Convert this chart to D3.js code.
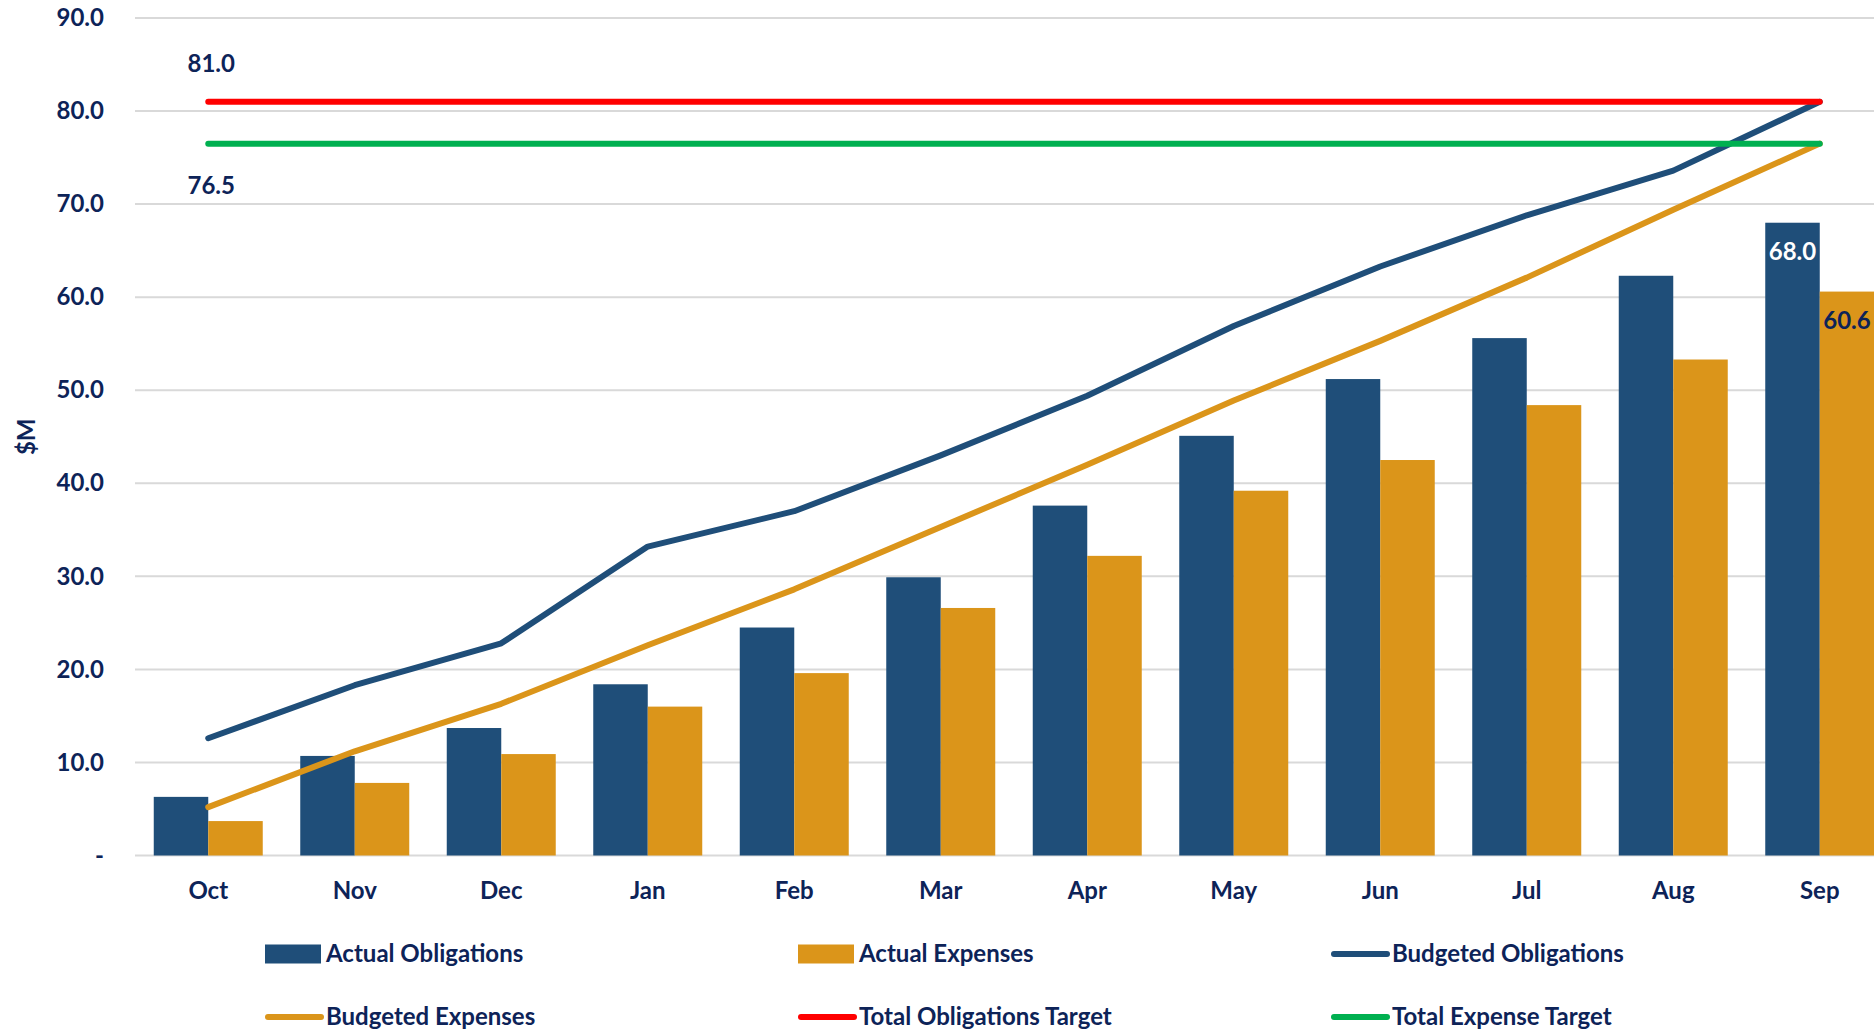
<!DOCTYPE html>
<html>
<head>
<meta charset="utf-8">
<script src="https://cdn.jsdelivr.net/npm/d3@7"></script>
<style>
  body { margin: 0; background: #fff; overflow: hidden; }
  svg text { font-family: Lato, "Open Sans", sans-serif; font-weight: bold; fill: #0d2358; }
</style>
</head>
<body>
<svg width="1874" height="1033"></svg>
<script>
const months = ["Oct", "Nov", "Dec", "Jan", "Feb", "Mar", "Apr", "May", "Jun", "Jul", "Aug", "Sep"];
const actualObligations = [6.3, 10.7, 13.7, 18.4, 24.5, 29.9, 37.6, 45.1, 51.2, 55.6, 62.3, 68.0];
const actualExpenses = [3.7, 7.8, 10.9, 16.0, 19.6, 26.6, 32.2, 39.2, 42.5, 48.4, 53.3, 60.6];
const budgetedObligations = [12.6, 18.3, 22.8, 33.2, 37.0, 43.0, 49.4, 56.9, 63.3, 68.8, 73.6, 81.0];
const budgetedExpenses = [5.2, 11.2, 16.3, 22.6, 28.6, 35.3, 42.0, 48.9, 55.3, 62.1, 69.4, 76.5];
const totalObligationsTarget = [81.0, 81.0, 81.0, 81.0, 81.0, 81.0, 81.0, 81.0, 81.0, 81.0, 81.0, 81.0];
const totalExpenseTarget = [76.5, 76.5, 76.5, 76.5, 76.5, 76.5, 76.5, 76.5, 76.5, 76.5, 76.5, 76.5];
const yTicks = [0, 10, 20, 30, 40, 50, 60, 70, 80, 90];

const navy = "#1f4e79", gold = "#db951a", red = "#ff0000", green = "#00b050";

const svg = d3.select("svg");
const plotLeft = 135, plotRight = 1893, plotTop = 18, plotBottom = 855.5;

const x = d3.scaleBand().domain(months).range([plotLeft, plotRight]).paddingInner(0.256).paddingOuter(0.128);
const xSub = d3.scaleBand().domain(["obl", "exp"]).range([0, x.bandwidth()]);
const y = d3.scaleLinear().domain([0, 90]).range([plotBottom, plotTop]);
const cx = (m) => x(m) + x.bandwidth() / 2;

// gridlines
svg.append("g")
  .selectAll("line")
  .data(yTicks)
  .join("line")
  .attr("x1", plotLeft)
  .attr("x2", 1874)
  .attr("y1", (d) => y(d))
  .attr("y2", (d) => y(d))
  .attr("stroke", "#d9d9d9")
  .attr("stroke-width", 2);

// y axis labels
const yAxis = svg.append("g")
  .attr("transform", "translate(104,0)")
  .call(d3.axisLeft(y).tickValues(yTicks).tickSize(0).tickPadding(0)
    .tickFormat((d) => (d === 0 ? "-" : d.toFixed(1))));
yAxis.select(".domain").remove();
yAxis.selectAll("text").style("font-size", "24px").attr("fill", "#0d2358");

// x axis labels
const xAxis = svg.append("g")
  .attr("transform", `translate(0,${plotBottom})`)
  .call(d3.axisBottom(x).tickSize(0).tickPadding(26));
xAxis.select(".domain").remove();
xAxis.selectAll("text").style("font-size", "24px").attr("fill", "#0d2358");

svg.append("text")
  .attr("transform", `translate(35,${(plotTop + plotBottom) / 2}) rotate(-90)`)
  .attr("text-anchor", "middle")
  .style("font-size", "24px")
  .text("$M");

// bars
svg.append("g")
  .selectAll("rect")
  .data(months)
  .join("rect")
  .attr("x", (m) => x(m) + xSub("obl"))
  .attr("y", (m, i) => y(actualObligations[i]))
  .attr("width", xSub.bandwidth())
  .attr("height", (m, i) => plotBottom - y(actualObligations[i]))
  .attr("fill", navy);

svg.append("g")
  .selectAll("rect")
  .data(months)
  .join("rect")
  .attr("x", (m) => x(m) + xSub("exp"))
  .attr("y", (m, i) => y(actualExpenses[i]))
  .attr("width", xSub.bandwidth())
  .attr("height", (m, i) => plotBottom - y(actualExpenses[i]))
  .attr("fill", gold);

// lines
const line = d3.line().x((d) => cx(d.m)).y((d) => y(d.v));
const series = [
  { values: budgetedObligations, color: navy },
  { values: budgetedExpenses, color: gold },
  { values: totalObligationsTarget, color: red },
  { values: totalExpenseTarget, color: green },
];
series.forEach((s) => {
  svg.append("path")
    .datum(months.map((m, i) => ({ m, v: s.values[i] })))
    .attr("d", line)
    .attr("fill", "none")
    .attr("stroke", s.color)
    .attr("stroke-width", 6)
    .attr("stroke-linecap", "round")
    .attr("stroke-linejoin", "round");
});

// data labels
svg.append("text")
  .attr("x", cx("Oct") + 3)
  .attr("y", y(totalObligationsTarget[0]) - 30)
  .attr("text-anchor", "middle")
  .style("font-size", "24px")
  .text(totalObligationsTarget[0].toFixed(1));

svg.append("text")
  .attr("x", cx("Oct") + 3)
  .attr("y", y(totalExpenseTarget[0]) + 50)
  .attr("text-anchor", "middle")
  .style("font-size", "24px")
  .text(totalExpenseTarget[0].toFixed(1));

const last = months.length - 1;
svg.append("text")
  .attr("x", x("Sep") + xSub("obl") + xSub.bandwidth() / 2)
  .attr("y", y(actualObligations[last]) + 37)
  .attr("text-anchor", "middle")
  .style("font-size", "24px")
  .style("fill", "#fff")
  .text(actualObligations[last].toFixed(1));

svg.append("text")
  .attr("x", x("Sep") + xSub("exp") + xSub.bandwidth() / 2)
  .attr("y", y(actualExpenses[last]) + 37)
  .attr("text-anchor", "middle")
  .style("font-size", "24px")
  .text(actualExpenses[last].toFixed(1));

// legend
const legendItems = [
  { name: "Actual Obligations", color: navy, type: "box", col: 0, row: 0 },
  { name: "Actual Expenses", color: gold, type: "box", col: 1, row: 0 },
  { name: "Budgeted Obligations", color: navy, type: "line", col: 2, row: 0 },
  { name: "Budgeted Expenses", color: gold, type: "line", col: 0, row: 1 },
  { name: "Total Obligations Target", color: red, type: "line", col: 1, row: 1 },
  { name: "Total Expense Target", color: green, type: "line", col: 2, row: 1 },
];
const legendX = [265, 798, 1331];
const legendY = [954, 1017];

const lg = svg.append("g")
  .selectAll("g")
  .data(legendItems)
  .join("g")
  .attr("transform", (d) => `translate(${legendX[d.col]},${legendY[d.row]})`);

lg.filter((d) => d.type === "box")
  .append("rect")
  .attr("x", 0)
  .attr("y", -9.5)
  .attr("width", 56)
  .attr("height", 19)
  .attr("fill", (d) => d.color);

lg.filter((d) => d.type === "line")
  .append("line")
  .attr("x1", 3)
  .attr("x2", 56)
  .attr("y1", 0)
  .attr("y2", 0)
  .attr("stroke", (d) => d.color)
  .attr("stroke-width", 6)
  .attr("stroke-linecap", "round");

lg.append("text")
  .attr("x", 61)
  .attr("y", 0)
  .attr("dy", "0.35em")
  .style("font-size", "24px")
  .text((d) => d.name);
</script>
</body>
</html>
